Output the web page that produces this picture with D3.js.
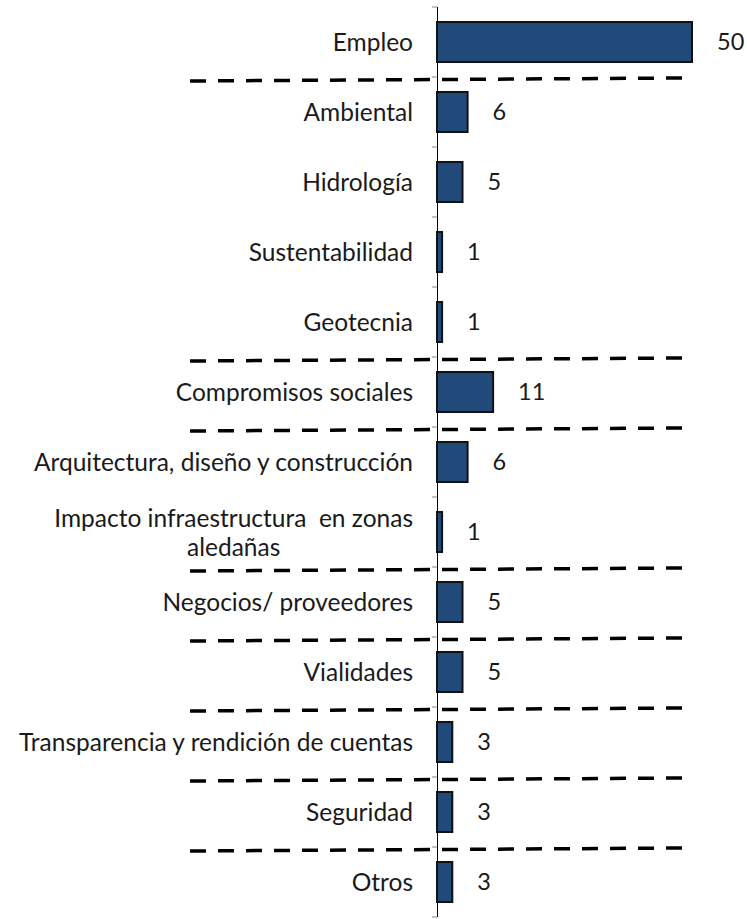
<!DOCTYPE html>
<meta charset="utf-8">
<style>
body { margin: 0; background: #fff; }
.bar { fill: #21497a; stroke: #111; stroke-width: 2; }
.lbl, .val { font-family: Lato, "Open Sans", sans-serif; font-size: 24.5px; fill: #1a1a1a; white-space: pre; }
.val { font-size: 23.5px; }
.sep { stroke: #000; stroke-width: 3.5; stroke-dasharray: 16,12; }
</style>
<svg width="747" height="919"></svg>
<script src="https://d3js.org/d3.v7.min.js"></script>
<script>

var categories = ["Empleo", "Ambiental", "Hidrología", "Sustentabilidad", "Geotecnia",
    "Compromisos sociales", "Arquitectura, diseño y construcción",
    "Impacto infraestructura  en zonas|aledañas", "Negocios/ proveedores", "Vialidades",
    "Transparencia y rendición de cuentas", "Seguridad", "Otros"];
var values = [50, 6, 5, 1, 1, 11, 6, 1, 5, 5, 3, 3, 3];
// dashed separators are drawn below these categories
var separatedAfter = ["Empleo", "Geotecnia", "Compromisos sociales",
    "Impacto infraestructura  en zonas|aledañas", "Negocios/ proveedores",
    "Vialidades", "Transparencia y rendición de cuentas", "Seguridad"];

var data = categories.map(function(c, i) { return {cat: c, value: values[i]}; });

var svg = d3.select("svg"),
    x0 = 437,
    yTop = 7, yBottom = 917;

var x = d3.scaleLinear().domain([0, 50]).range([x0, 692]);
var y = d3.scaleBand().domain(categories).range([yTop, yBottom])
    .paddingInner(3 / 7).paddingOuter(3 / 14);
var half = (y.step() - y.bandwidth()) / 2;

// ticks at category boundaries
var bounds = categories.map(function(c) { return y(c) - half; }).concat([yBottom]);
svg.selectAll(".tick").data(bounds).enter().append("line")
    .attr("x1", x0 - 5).attr("x2", x0)
    .attr("y1", function(d) { return d; }).attr("y2", function(d) { return d; })
    .attr("stroke", "#888").attr("stroke-width", 1);

svg.append("line")
    .attr("x1", x0 + 0.5).attr("x2", x0 + 0.5)
    .attr("y1", yTop).attr("y2", yBottom)
    .attr("stroke", "#000").attr("stroke-width", 1);

svg.selectAll(".bar").data(data).enter().append("rect")
    .attr("class", "bar")
    .attr("x", x(0))
    .attr("y", function(d) { return y(d.cat); })
    .attr("width", function(d) { return x(d.value) - x(0); })
    .attr("height", y.bandwidth());

svg.selectAll(".val").data(data).enter().append("text")
    .attr("class", "val")
    .attr("x", function(d) { return x(d.value) + 25; })
    .attr("y", function(d) { return y(d.cat) + y.bandwidth() / 2; })
    .attr("dy", "0.36em")
    .text(function(d) { return d.value; });

svg.selectAll(".lbl").data(data).enter().append("text")
    .attr("class", "lbl")
    .each(function(d) {
      var t = d3.select(this), lines = d.cat.split("|"),
          cy = y(d.cat) + y.bandwidth() / 2;
      if (lines.length === 1) {
        t.attr("x", 413).attr("y", cy).attr("dy", "0.36em")
          .attr("text-anchor", "end").text(lines[0]);
      } else {
        t.attr("text-anchor", "middle");
        var a = t.append("tspan").attr("y", cy - 14).attr("dy", "0.36em").text(lines[0]);
        var w = a.node().getComputedTextLength();
        var cx = 413 - w / 2;
        a.attr("x", cx);
        t.append("tspan").attr("x", cx).attr("y", cy + 15).attr("dy", "0.36em").text(lines[1]);
      }
    });

svg.selectAll(".sep").data(separatedAfter).enter().append("line")
    .attr("class", "sep")
    .attr("x1", 190).attr("x2", 686)
    .attr("y1", function(d) { return y(d) + y.bandwidth() + half + 4; })
    .attr("y2", function(d) { return y(d) + y.bandwidth() + half + 1; });

</script>
